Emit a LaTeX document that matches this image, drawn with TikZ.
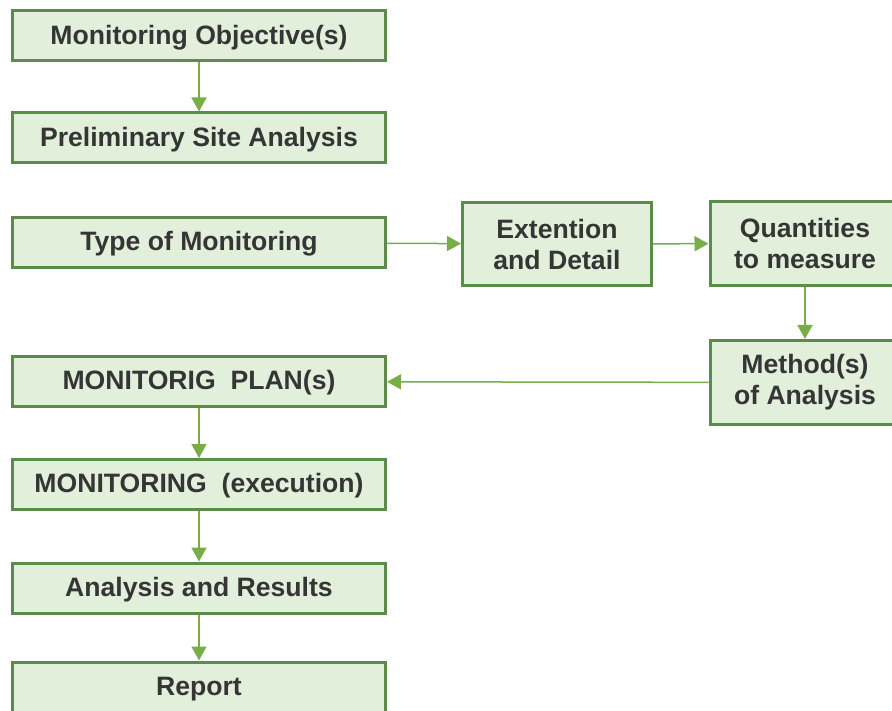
\documentclass[tikz,border=0pt]{standalone}
\usepackage{fontspec}
\setmainfont{Liberation Sans}
\usetikzlibrary{arrows.meta}
\definecolor{boxfill}{HTML}{E2EFDA}
\definecolor{boxline}{HTML}{5B8C4A}
\definecolor{arrowc}{HTML}{78AD48}
\definecolor{txt}{HTML}{353535}
\begin{document}
\begin{tikzpicture}[x=1pt,y=-1pt,
  basebox/.style={draw=boxline, line width=3pt, fill=boxfill, text=txt,
    font=\fontsize{26.6}{31}\selectfont\bfseries, inner sep=0pt, align=center},
  box/.style={basebox, minimum width=373pt, minimum height=50pt,
    text height=19.5pt, text depth=3pt},
  sidebox/.style={basebox, minimum width=190pt, minimum height=84pt},
  flow/.style={draw=arrowc, line width=1.5pt, -{Triangle[length=14pt,width=15pt]}}]
\useasboundingbox (0,0) rectangle (892,711);

% main column
\node[box] (obj)  at (199,36)    {Monitoring Objective(s)};
\node[box] (site) at (199,138)   {Preliminary Site Analysis};
\node[box] (type) at (199,242.5) {Type of Monitoring};
\node[box] (plan) at (199,381.5) {MONITORIG\ \ PLAN(s)};
\node[box] (exec) at (199,484.5) {MONITORING\ \ (execution)};
\node[box] (res)  at (199,588)   {Analysis and Results};
\node[box] (rep)  at (199,687)   {Report};

% side branch
\node[sidebox, minimum width=189pt, minimum height=83pt] (ext) at (557,244) {Extention\\and Detail};
\node[sidebox] (qty) at (805,243.5) {Quantities\\to measure};
\node[sidebox] (meth) at (805,382.5) {Method(s)\\of Analysis};

% connectors
\draw[flow] (obj) -- (site);
\draw[flow] (type) -- (ext);
\draw[flow] (ext) -- (qty);
\draw[flow] (qty) -- (meth);
\draw[flow] (meth) -- (plan);
\draw[flow] (plan) -- (exec);
\draw[flow] (exec) -- (res);
\draw[flow] (res) -- (rep);
\end{tikzpicture}
\end{document}
